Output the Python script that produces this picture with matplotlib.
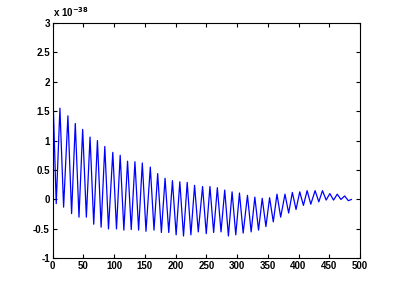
import matplotlib
matplotlib.use("Agg")
import matplotlib.pyplot as plt
import numpy as np

# Extrema (sample index, value in units of 1e-38)
peak_x = [0, 12, 25, 37, 49, 61, 73, 85, 98, 110, 122, 134, 146, 159, 171, 183,
          195, 207, 219, 231, 244, 256, 268, 280, 292, 304, 317, 329, 341, 353,
          365, 378, 390, 402, 414, 427, 439, 451, 463, 475]
peak_y = [2.0, 1.55, 1.42, 1.29, 1.19, 1.06, 1.0, 0.9, 0.8, 0.75, 0.65, 0.64,
          0.62, 0.55, 0.44, 0.36, 0.32, 0.30, 0.29, 0.24, 0.22, 0.22, 0.20, 0.16,
          0.13, 0.11, 0.07, 0.04, 0.02, 0.03, 0.09, 0.09, 0.12, 0.13, 0.15, 0.15,
          0.15, 0.10, 0.09, 0.06]
trough_x = [6, 18, 31, 43, 55, 67, 79, 91, 104, 116, 128, 140, 152, 165, 177,
            189, 201, 213, 225, 237, 250, 262, 274, 286, 298, 310, 323, 335, 347,
            359, 371, 384, 396, 408, 420, 433, 445, 457, 469, 481]
trough_y = [-0.07, -0.13, -0.24, -0.30, -0.30, -0.42, -0.47, -0.50, -0.50, -0.52,
            -0.51, -0.52, -0.54, -0.52, -0.56, -0.56, -0.60, -0.62, -0.60, -0.55,
            -0.58, -0.56, -0.55, -0.62, -0.60, -0.57, -0.55, -0.52, -0.46, -0.38,
            -0.30, -0.23, -0.17, -0.10, -0.08, -0.04, -0.01, -0.01, 0.0, -0.02]
end_x = [486]
end_y = [0.0]

xticks = [0, 50, 100, 150, 200, 250, 300, 350, 400, 450, 500]
yticks = [-1, -0.5, 0, 0.5, 1, 1.5, 2, 2.5, 3]

xs, ys = [], []
for px, py, tx, ty in zip(peak_x, peak_y, trough_x, trough_y):
    xs += [px, tx]
    ys += [py, ty]
xs += end_x
ys += end_y

fig = plt.figure(figsize=(3.98, 2.90), dpi=100)
ax = fig.add_axes([0.132, 0.109, 0.7725, 0.8125])
ax.plot(xs, ys, color=(0, 0, 1), linewidth=0.9)
ax.set_xlim(0, 500)
ax.set_ylim(-1, 3)
ax.set_xticks(xticks)
ax.set_yticks(yticks)
ax.set_xticklabels([str(t) for t in xticks])
ax.set_yticklabels(['-1', '-0.5', '0', '0.5', '1', '1.5', '2', '2.5', '3'])
ax.tick_params(direction='in', top=True, right=True, length=3, width=0.8,
               labelsize=7, pad=2)
for lbl in ax.get_xticklabels() + ax.get_yticklabels():
    lbl.set_fontfamily('Liberation Sans')
    lbl.set_fontweight('bold')
for s in ax.spines.values():
    s.set_linewidth(0.8)
fig.text(0.132, 0.935, r'x 10$^{\mathbf{-38}}$', fontsize=7, fontweight='bold',
         family='Liberation Sans', ha='left', va='bottom')
fig.savefig('out.png', dpi=100)
